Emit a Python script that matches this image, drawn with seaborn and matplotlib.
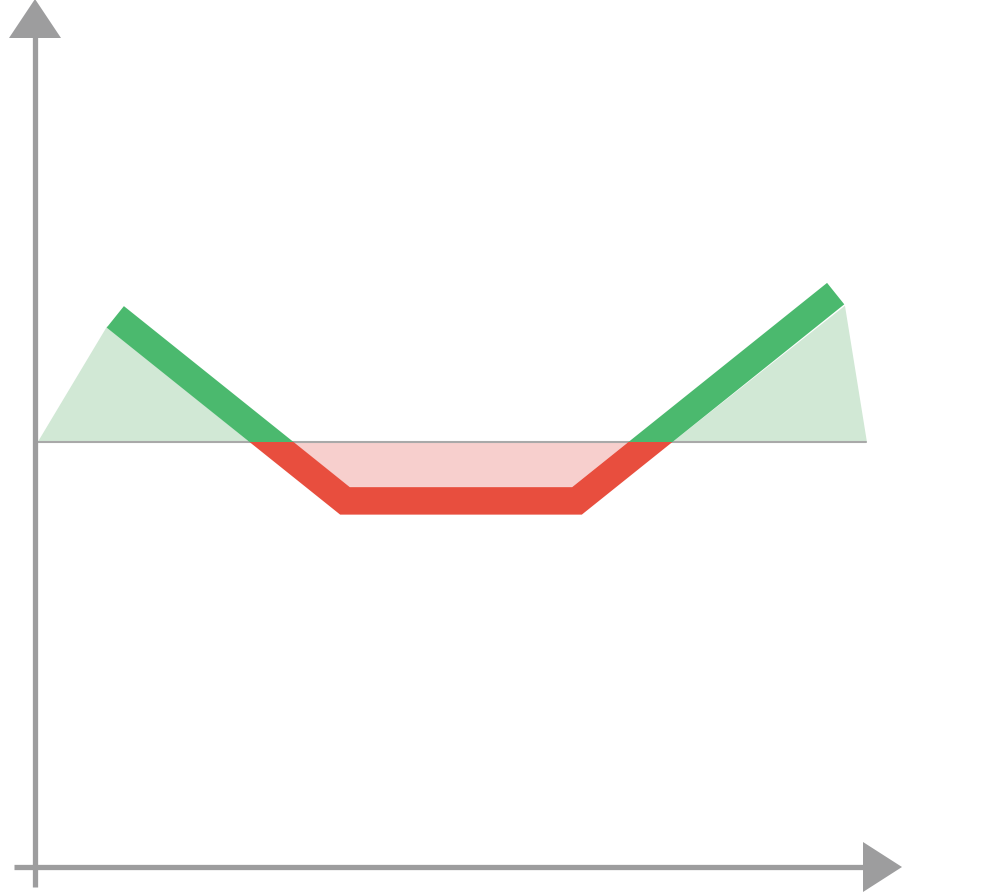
import numpy as np
import pandas as pd
import seaborn as sns
import matplotlib.pyplot as plt
from matplotlib.patches import Polygon, Rectangle

sns.set_style("white")

# long strangle payoff: put strike 40, call strike 60, premium 6.3
price = [20.2, 33.7, 40, 60, 66.3, 82.3]
pnl = [13.5, 0, -6.3, -6.3, 0, 16.0]

# shaded profit / loss zones
profit_left_x = [13.5, 19.5, 31.8]
profit_left_y = [0, 12.5, 0]
profit_right_x = [68.2, 83.1, 85.0]
profit_right_y = [0, 14.7, 0]
loss_x = [35.5, 40.4, 59.6, 64.4]
loss_y = [0, -4.8, -4.8, 0]
zero_x = [13.5, 84.9]

green = "#4bb96e"
red = "#e84e3e"
green_fill = "#d1e8d5"
red_fill = "#f7cfcd"
grey = "#9d9d9e"

W, H = 986, 895
fig = plt.figure(figsize=(W / 100, H / 100), dpi=100)
ax = fig.add_axes([0, 0, 1, 1])
ax.set_xlim(10.26, 95.26)
ax.set_ylim(-48.6, 47.7)
ax.axis("off")

ax.fill(profit_left_x, profit_left_y, color=green_fill, lw=0, zorder=1)
ax.fill(profit_right_x, profit_right_y, color=green_fill, lw=0, zorder=1)
ax.fill(loss_x, loss_y, color=red_fill, lw=0, zorder=1)
ax.plot(zero_x, [0, 0], color="#a9a9a9", lw=1.5, zorder=2)

df = pd.DataFrame({"price": price, "pnl": pnl})
line_kw = dict(lw=19.8, solid_capstyle="butt", solid_joinstyle="miter",
               estimator=None, sort=False, legend=False, zorder=3)
sns.lineplot(data=df, x="price", y="pnl", color=red, ax=ax, **line_kw)
ax.lines[-1].set_clip_path(Rectangle((0, -100), 200, 100, transform=ax.transData))
sns.lineplot(data=df, x="price", y="pnl", color=green, ax=ax, **line_kw)
ax.lines[-1].set_clip_path(Rectangle((0, 0), 200, 100, transform=ax.transData))
ax.set_xlabel("")
ax.set_ylabel("")


def px(x, y):
    return (x / W, 1 - y / H)


# axis arrows
ax.plot(*zip(px(35, 888), px(35, 38)), color=grey, lw=3.8,
        solid_capstyle="butt", transform=ax.transAxes, clip_on=False)
ax.add_patch(Polygon([px(9, 39), px(61, 39), px(35, 0)], closed=True,
                     color=grey, lw=0, transform=ax.transAxes, clip_on=False))
ax.plot(*zip(px(14, 868), px(864, 868)), color=grey, lw=3.8,
        solid_capstyle="butt", transform=ax.transAxes, clip_on=False)
ax.add_patch(Polygon([px(863, 843), px(863, 893), px(902, 868)], closed=True,
                     color=grey, lw=0, transform=ax.transAxes, clip_on=False))

fig.savefig("out.png", dpi=100)
